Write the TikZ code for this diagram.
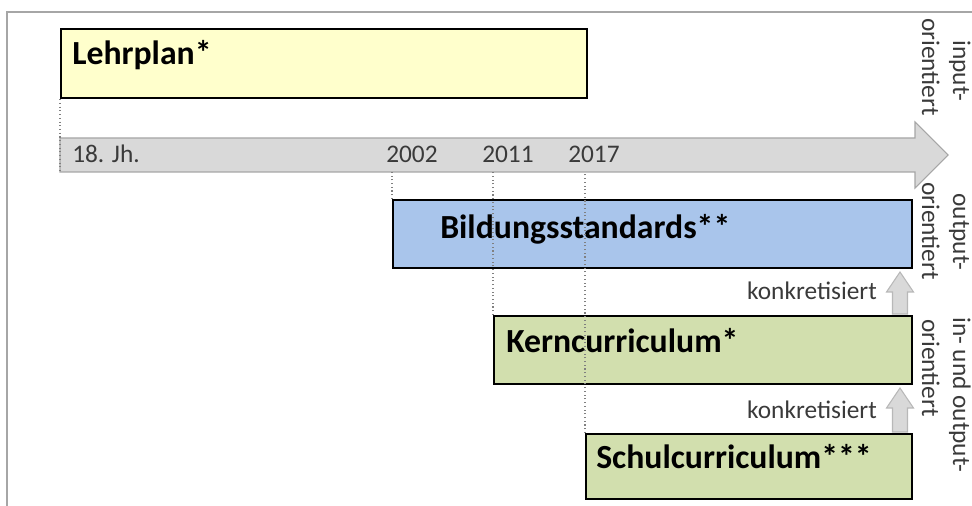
\documentclass[tikz,border=0pt]{standalone}
\usepackage{fontspec}
\setmainfont{Carlito}
\usepackage{tikz}
\definecolor{lehrgelb}{HTML}{FFFFCC}
\definecolor{bildblau}{HTML}{A9C5EB}
\definecolor{kerngruen}{HTML}{D2DFAE}
\definecolor{achsgrau}{HTML}{D9D9D9}
\definecolor{randgrau}{HTML}{A6A6A6}
\definecolor{textgrau}{HTML}{3A3A3A}
\tikzset{
	box/.style={draw=black, line width=1.6pt, rectangle, inner sep=0pt},
	titel/.style={font=\fontsize{25.3}{30}\selectfont\bfseries, text=black, inner sep=0pt},
	klein/.style={font=\fontsize{19}{23}\selectfont, text=textgrau, inner sep=0pt},
	seite/.style={klein, rotate=-90, anchor=base},
	hilfslinie/.style={draw=gray, dotted, line width=0.8pt},
	hochpfeil/.style={draw=randgrau!80, fill=achsgrau, line width=0.8pt}
}
\begin{document}
\begin{tikzpicture}[x=0.75pt,y=-0.75pt]
		\useasboundingbox (0,0) rectangle (972,506);
		\draw[randgrau, line width=1.5pt] (7,506) -- (7,12) -- (972,12);
		\draw[randgrau, fill=achsgrau, line width=0.8pt] (60,138) -- (915,138) -- (915,122) -- (948,155) -- (915,188) -- (915,172) -- (60,172) -- cycle;
		\coordinate (achsunten) at (0,172);
		\coordinate (pfeilx) at (900,0);
		\node[box, fill=lehrgelb, minimum width=394.5pt, minimum height=51.75pt, anchor=north west] (lehrplan) at (60,28) {};
		\node[box, fill=bildblau, minimum width=389.25pt, minimum height=51pt, anchor=north west] (bild) at (392,199) {};
		\node[box, fill=kerngruen, minimum width=313.5pt, minimum height=51pt, anchor=north west] (kern) at (493,315) {};
		\node[box, fill=kerngruen, minimum width=244.5pt, minimum height=48.75pt, anchor=north west] (schul) at (585,433) {};
		\node[titel, anchor=base west] (lehrtext) at (72,65) {Lehrplan*};
		\node[titel, anchor=base west] (bildtext) at (440,239) {Bildungsstandards**};
		\node[titel, anchor=base west] (kerntext) at (506,352) {Kerncurriculum*};
		\node[titel, anchor=base west] (schultext) at (596,468) {Schulcurriculum***};
		\node[klein, anchor=base west] (jh18) at (72,163) {18. Jh.};
		\node[klein, anchor=base west] (j2002) at (386,163) {2002};
		\node[klein, anchor=base west] (j2011) at (482,163) {2011};
		\node[klein, anchor=base west] (j2017) at (568,163) {2017};
		\draw[hilfslinie] (lehrplan.south west) -- (lehrplan.south west |- achsunten);
		\draw[hilfslinie] (bild.north west) -- (bild.north west |- achsunten);
		\draw[hilfslinie] (kern.north west) -- (kern.north west |- achsunten);
		\draw[hilfslinie] (schul.north west) -- (schul.north west |- achsunten);
		\draw[hochpfeil] (kern.north -| pfeilx) ++(-7.5,-1) -- ++(0,-22) -- ++(-6,0) -- ++(13.5,-20) -- ++(13.5,20) -- ++(-6,0) -- ++(0,22) -- cycle;
		\draw[hochpfeil] (schul.north -| pfeilx) ++(-7.5,-1) -- ++(0,-24) -- ++(-6,0) -- ++(13.5,-20) -- ++(13.5,20) -- ++(-6,0) -- ++(0,24) -- cycle;
		\node[klein, anchor=base east] (konkret1) at (877,300) {konkretisiert};
		\node[klein, anchor=base east] (konkret2) at (877,418) {konkretisiert};
		\node[seite] (input) at (953,71) {input-};
		\node[seite] (orient1) at (922,67) {orientiert};
		\node[seite] (output) at (953,232) {output-};
		\node[seite] (orient2) at (922,231) {orientiert};
		\node[seite] (inout) at (953,395) {in- und output-};
		\node[seite] (orient3) at (922,368) {orientiert};
	\end{tikzpicture}
\end{document}
